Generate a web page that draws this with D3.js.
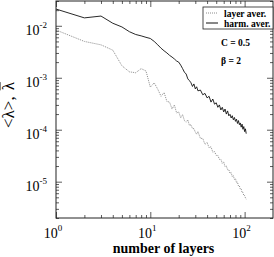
<!DOCTYPE html>
<html>
<head>
<meta charset="utf-8">
<script src="https://cdn.jsdelivr.net/npm/d3@7"></script>
<style>
  body { margin: 0; background: #fff; }
  svg { display: block; }
  text { font-family: "Liberation Serif", "Times New Roman", serif; }
</style>
</head>
<body>
<svg id="chart"></svg>
<script>
// number of layers
const layers = [1, 2, 3, 4, 5, 6, 7, 8, 9, 10, 11, 12, 13, 14, 15, 16, 17, 18, 19, 20,
  21, 22, 23, 24, 25, 26, 27, 28, 29, 30, 31, 32,
  34, 36, 38, 40, 42, 44, 46, 48, 50, 52, 54, 56, 58, 60, 62, 64, 66, 68, 70,
  72, 74, 76, 78, 80, 82, 84, 86, 88, 90, 92, 94, 96, 98, 100, 102, 104]

// harm. aver.
const harmAver = [0.021, 0.0142, 0.0154, 0.0112, 0.0095, 0.0077, 0.0068, 0.0064, 0.0060, 0.0057,
  0.0050, 0.0043, 0.0037, 0.0033, 0.0030, 0.0027, 0.0025, 0.0023, 0.0021, 0.0020,
  0.00175, 0.0015, 0.00128, 0.00118, 0.00095, 0.00088, 0.0008, 0.00068, 0.00076, 0.00061, 0.00067, 0.00056,
  0.00058, 0.00047, 0.00050, 0.00041, 0.00044, 0.00034, 0.00039, 0.00031, 0.00033, 0.00027, 0.00030,
  0.00024, 0.00027, 0.00022, 0.00025, 0.00020, 0.00023, 0.000185, 0.000198, 0.000168, 0.000186,
  0.000155, 0.000172, 0.000145, 0.00016, 0.000132, 0.00015, 0.000125, 0.000135, 0.000112, 0.000128,
  0.000102, 0.000115, 0.000092, 0.000104, 0.000084]

// layer aver.
const layerAver = [8.3e-3, 5.0e-3, 4.3e-3, 3.4e-3, 1.7e-3, 1.3e-3, 1.25e-3, 1.5e-3, 1.35e-3, 6.6e-4,
  8.0e-4, 6.0e-4, 4.4e-4, 5.2e-4, 3.5e-4, 3.4e-4, 2.5e-4, 3.0e-4, 2.1e-4, 2.2e-4,
  1.7e-4, 1.95e-4, 1.5e-4, 1.4e-4, 1.55e-4, 1.2e-4, 1.25e-4, 1.05e-4, 1.05e-4, 9.0e-5, 8.2e-5, 9.2e-5,
  6.8e-5, 6.8e-5, 5.2e-5, 5.7e-5, 4.5e-5, 4.7e-5, 3.7e-5, 3.8e-5, 3.2e-5, 3.2e-5, 2.7e-5,
  2.7e-5, 2.25e-5, 2.4e-5, 1.95e-5, 2.0e-5, 1.7e-5, 1.7e-5, 1.45e-5, 1.5e-5, 1.25e-5,
  1.3e-5, 1.1e-5, 1.15e-5, 9.6e-6, 9.8e-6, 8.3e-6, 8.3e-6, 7.2e-6, 7.2e-6, 6.2e-6,
  6.2e-6, 5.4e-6, 5.4e-6, 4.9e-6, 4.6e-6]

const xMajor = [1, 10, 100]
const xExp = ["0", "1", "2"]
const yMajor = [1e-2, 1e-3, 1e-4, 1e-5]
const yExp = ["-2", "-3", "-4", "-5"]
const legendLabels = ["layer aver.", "harm. aver."]
const notes = ["C = 0.5", "\u03b2 = 2"]

const width = 274, height = 257
const margin = {top: 1, right: 1, bottom: 39, left: 56}
const innerW = width - margin.left - margin.right,
      innerH = height - margin.top - margin.bottom

const x = d3.scaleLog().domain([1, 200]).range([0, innerW])
const y = d3.scaleLog().domain([2e-6, 3e-2]).range([innerH, 0])

const minor = (lo, hi) => d3.range(lo, hi + 1).flatMap(e => d3.range(2, 10).map(k => k * Math.pow(10, e)))
const xMinor = minor(0, 1).filter(v => v < 200)
const yMinor = minor(-6, -2).filter(v => v >= 2e-6 && v <= 3e-2)

const svg = d3.select("#chart").attr("width", width).attr("height", height)
const body = svg.append("g").attr("transform", `translate(${margin.left},${margin.top})`)

// inward ticks on all four sides
function ticks(axis, vals, size) {
  return axis.tickValues(vals).tickSize(-size).tickFormat("")
}
const tickG = body.append("g").attr("class", "ticks")
tickG.append("g").attr("transform", `translate(0,${innerH})`).call(ticks(d3.axisBottom(x), xMajor, 6))
tickG.append("g").attr("transform", `translate(0,${innerH})`).call(ticks(d3.axisBottom(x), xMinor, 3))
tickG.append("g").call(ticks(d3.axisTop(x), xMajor, 6))
tickG.append("g").call(ticks(d3.axisTop(x), xMinor, 3))
tickG.append("g").call(ticks(d3.axisLeft(y), yMajor, 6))
tickG.append("g").call(ticks(d3.axisLeft(y), yMinor, 3))
tickG.append("g").attr("transform", `translate(${innerW},0)`).call(ticks(d3.axisRight(y), yMajor, 6))
tickG.append("g").attr("transform", `translate(${innerW},0)`).call(ticks(d3.axisRight(y), yMinor, 3))
tickG.selectAll(".domain").remove()
tickG.selectAll("line").attr("stroke", "#333").attr("stroke-width", 0.8)

// lines
const line = vals => d3.line().x((d, i) => x(layers[i])).y(d => y(d))(vals)
body.append("path")
    .attr("d", line(layerAver))
    .attr("fill", "none")
    .attr("stroke", "#8c8c8c")
    .attr("stroke-width", 1)
    .attr("stroke-dasharray", "1,1")
body.append("path")
    .attr("d", line(harmAver))
    .attr("fill", "none")
    .attr("stroke", "#111")
    .attr("stroke-width", 0.9)

// frame
body.append("rect")
    .attr("width", innerW).attr("height", innerH)
    .attr("fill", "none").attr("stroke", "#222").attr("stroke-width", 1)

// tick labels
xMajor.forEach((v, i) => {
  const t = body.append("text")
      .attr("x", x(v) - 3).attr("y", innerH + 20)
      .attr("text-anchor", "middle")
      .style("font-size", "14px")
  t.append("tspan").text("10")
  t.append("tspan").attr("dy", -7).style("font-size", "9px").text(xExp[i])
})
yMajor.forEach((v, i) => {
  const t = body.append("text")
      .attr("x", -9).attr("y", y(v) + 9)
      .attr("text-anchor", "end")
      .style("font-size", "14px")
  t.append("tspan").text("10")
  t.append("tspan").attr("dy", -7).style("font-size", "9px").text(yExp[i])
})

// axis titles
svg.append("text")
    .attr("x", margin.left + innerW / 2 - 1).attr("y", 253)
    .attr("text-anchor", "middle")
    .style("font-size", "14px").style("font-weight", "bold")
    .text("number of layers")

// y title: "<λ>, λ" with a bar over the second lambda
const yt = svg.append("g").attr("transform", "translate(14,128) rotate(-90)")
const t1 = yt.append("text").style("font-size", "17px").text("<\u03bb>,")
const w1 = t1.node().getComputedTextLength()
const t2 = yt.append("text").attr("x", w1 + 6).style("font-size", "17px").text("\u03bb")
const w2 = t2.node().getComputedTextLength()
yt.append("line")
    .attr("x1", w1 + 6).attr("x2", w1 + 6 + w2)
    .attr("y1", -14).attr("y2", -14)
    .attr("stroke", "#111").attr("stroke-width", 1)

// legend
const lg = body.append("g").attr("transform", `translate(${innerW - 70},6)`)
lg.append("rect").attr("width", 70).attr("height", 22)
    .attr("fill", "#fff").attr("stroke", "#222").attr("stroke-width", 0.8)
legendLabels.forEach((lab, i) => {
  const yy = 6 + i * 10
  lg.append("line").attr("x1", 3).attr("x2", 15).attr("y1", yy).attr("y2", yy)
      .attr("stroke", i === 0 ? "#8c8c8c" : "#111")
      .attr("stroke-dasharray", i === 0 ? "1,1" : null)
  lg.append("text").attr("x", 21).attr("y", yy + 3.5)
      .style("font-size", "9.5px").style("font-weight", "bold")
      .text(lab)
})

// parameters
notes.forEach((s, i) => {
  body.append("text")
      .attr("x", 165).attr("y", 45 + i * 18)
      .style("font-size", "9.5px").style("font-weight", "bold")
      .text(s)
})
</script>
</body>
</html>
